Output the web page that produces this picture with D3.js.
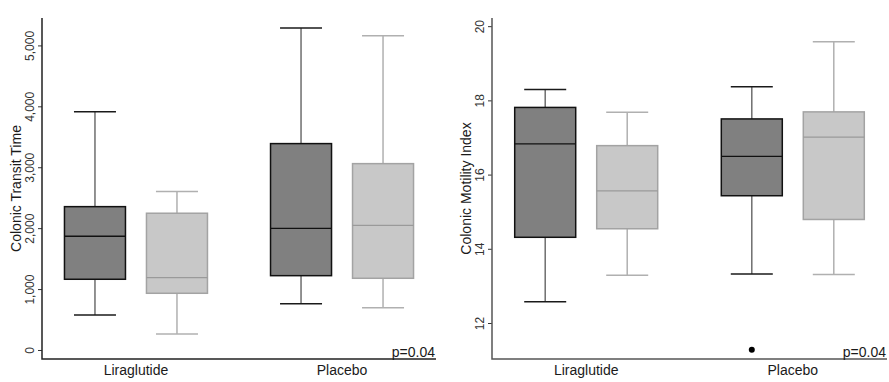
<!DOCTYPE html>
<html>
<head>
<meta charset="utf-8">
<script src="https://cdn.jsdelivr.net/npm/d3@7"></script>
<style>
  body { margin: 0; background: #fff; }
  text { font-family: "Liberation Sans", Arial, sans-serif; fill: #1a1a1a; }
</style>
</head>
<body>
<svg width="889" height="382"></svg>
<script>
// groups on the x axis
var categories = ["Liraglutide", "Placebo"];

// box stats per category: [lower whisker, q1, median, q3, upper whisker]
var transitDark  = [[575, 1161, 1867, 2353, 3913], [760, 1220, 1998, 3388, 5285]];
var transitLight = [[263, 931, 1187, 2245, 2600], [695, 1177, 2047, 3059, 5158]];
var transitTicks = [0, 1000, 2000, 3000, 4000, 5000];

var motilityDark  = [[12.57, 14.31, 16.83, 17.81, 18.29], [13.32, 15.43, 16.49, 17.50, 18.37]];
var motilityLight = [[13.29, 14.54, 15.56, 16.78, 17.68], [13.31, 14.79, 17.01, 17.69, 19.58]];
var motilityOutliers = [{cat: "Placebo", series: 0, value: 11.28}];
var motilityTicks = [12, 14, 16, 18, 20];

var svg = d3.select("svg");

// dark / light box styles
var styles = [
    {fill: "#808080", stroke: "#111", stem: "#6e6e6e", cap: "#1a1a1a", median: "#111"},
    {fill: "#c8c8c8", stroke: "#a3a3a3", stem: "#b0b0b0", cap: "#b0b0b0", median: "#9a9a9a"}
];

function drawPanel(opt) {
    var top = 18, bottom = 359;
    var x = d3.scalePoint().domain(categories).range([opt.left, opt.right]).padding(0.456);
    var y = d3.scaleLinear().domain(opt.domain).range([bottom, top]);
    var g = svg.append("g");

    // y axis ticks, labels rotated
    var yAxis = g.append("g")
        .attr("transform", "translate(" + opt.left + ",0)")
        .call(d3.axisLeft(y).tickValues(opt.ticks).tickSize(4).tickFormat(opt.format));
    yAxis.select(".domain").remove();
    yAxis.selectAll(".tick line").attr("stroke", "#333");
    yAxis.selectAll(".tick text")
        .attr("transform", "rotate(-90)")
        .attr("x", 0)
        .attr("y", -8)
        .attr("dy", 0)
        .attr("text-anchor", "middle")
        .style("font-size", "12px")
        .style("fill", "#333");

    // axis lines
    g.append("path")
        .attr("d", "M" + opt.left + "," + top + "V" + bottom + "H" + opt.right)
        .attr("fill", "none")
        .attr("stroke", opt.axisColor)
        .attr("stroke-width", 1.5);

    g.append("text")
        .attr("transform", "translate(" + (opt.left - 21) + "," + ((top + bottom) / 2) + ") rotate(-90)")
        .attr("text-anchor", "middle")
        .style("font-size", "14px")
        .text(opt.title);

    g.selectAll(".cat").data(categories).enter().append("text")
        .attr("x", function(d) { return x(d); })
        .attr("y", 375)
        .attr("text-anchor", "middle")
        .style("font-size", "14px")
        .text(function(d) { return d; });

    g.append("text")
        .attr("x", opt.right - 1)
        .attr("y", 357)
        .attr("text-anchor", "end")
        .style("font-size", "14px")
        .text("p=0.04");

    var offset = 41, half = 30.5, capHalf = 21;
    [opt.dark, opt.light].forEach(function(series, si) {
        var st = styles[si];
        series.forEach(function(s, ci) {
            var cx = x(categories[ci]) + (si === 0 ? -offset : offset);
            var b = g.append("g");
            b.append("line").attr("x1", cx).attr("x2", cx).attr("y1", y(s[4])).attr("y2", y(s[3]))
                .attr("stroke", st.stem).attr("stroke-width", 1.5);
            b.append("line").attr("x1", cx).attr("x2", cx).attr("y1", y(s[1])).attr("y2", y(s[0]))
                .attr("stroke", st.stem).attr("stroke-width", 1.5);
            [s[0], s[4]].forEach(function(v) {
                b.append("line").attr("x1", cx - capHalf).attr("x2", cx + capHalf)
                    .attr("y1", y(v)).attr("y2", y(v))
                    .attr("stroke", st.cap).attr("stroke-width", 1.5);
            });
            b.append("rect")
                .attr("x", cx - half).attr("width", half * 2)
                .attr("y", y(s[3])).attr("height", y(s[1]) - y(s[3]))
                .attr("fill", st.fill).attr("stroke", st.stroke).attr("stroke-width", 1.5);
            b.append("line").attr("x1", cx - half).attr("x2", cx + half)
                .attr("y1", y(s[2])).attr("y2", y(s[2]))
                .attr("stroke", st.median).attr("stroke-width", 1.3);
        });
    });

    (opt.outliers || []).forEach(function(o) {
        var cx = x(o.cat) + (o.series === 0 ? -offset : offset);
        g.append("circle").attr("cx", cx).attr("cy", y(o.value)).attr("r", 3).attr("fill", "#000");
    });
}

drawPanel({
    left: 42, right: 436, domain: [-148, 5450], ticks: transitTicks,
    format: d3.format(","), title: "Colonic Transit Time", axisColor: "#222",
    dark: transitDark, light: transitLight
});

drawPanel({
    left: 492, right: 887, domain: [11.03, 20.22], ticks: motilityTicks,
    format: d3.format("d"), title: "Colonic Motility Index", axisColor: "#555",
    dark: motilityDark, light: motilityLight, outliers: motilityOutliers
});
</script>
</body>
</html>
